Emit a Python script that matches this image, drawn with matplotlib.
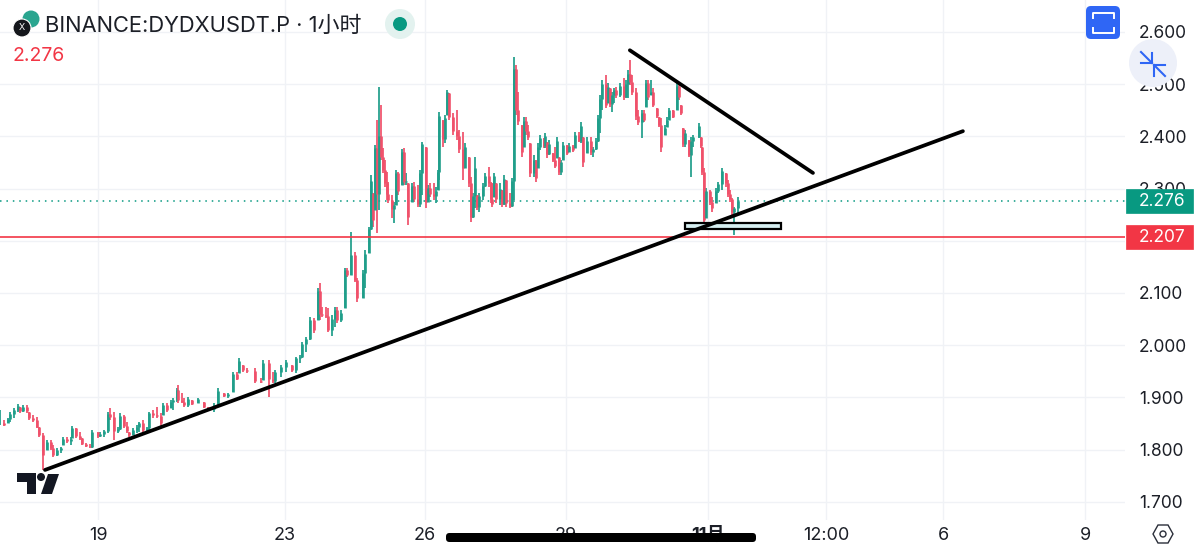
import numpy as np
import matplotlib
matplotlib.use('Agg')
import matplotlib.pyplot as plt
from matplotlib.patches import Circle, FancyBboxPatch, Polygon, Rectangle

# candles; hours counted from 16 Oct 00:00
bar_hours = [22, 24, 26, 27, 29, 31, 32, 34, 36, 37, 39, 41, 42, 44, 46, 48, 49, 51, 53, 54,
             56, 58, 59, 61, 63, 64, 66, 68, 69, 72, 73, 75, 77, 78, 80, 82, 83, 85, 87, 88,
             90, 92, 93, 95, 97, 98, 100, 102, 104, 105, 107, 109, 110, 112, 113, 115, 116, 118, 120, 123,
             126, 128, 131, 133, 136, 138, 141, 143, 144, 146, 148, 152, 155, 156, 159, 161, 162, 165, 168, 171,
             173, 175, 176, 178, 180, 182, 184, 185, 186, 188, 189, 191, 193, 194, 196, 198, 199, 201, 203, 204,
             207, 208, 210, 211, 212, 213, 214, 215, 216, 217, 218, 219, 220, 222, 223, 224, 225, 227, 228, 229,
             230, 232, 233, 235, 236, 237, 239, 240, 241, 243, 244, 245, 246, 248, 249, 250, 251, 253, 255, 256,
             258, 259, 261, 262, 263, 264, 265, 266, 268, 269, 271, 272, 273, 274, 275, 277, 278, 279, 280, 282,
             283, 284, 285, 286, 288, 289, 290, 291, 292, 294, 295, 296, 297, 299, 300, 301, 302, 304, 305, 306,
             307, 308, 309, 311, 312, 314, 315, 317, 318, 319, 321, 323, 324, 326, 327, 328, 329, 331, 332, 333,
             334, 335, 336, 338, 340, 341, 342, 343, 344, 346, 347, 349, 350, 351, 352, 354, 355, 357, 358, 359,
             361, 362, 363, 365, 367, 368, 369, 370, 371, 373, 374, 375, 378, 379, 380, 381, 382, 384, 385, 387,
             388, 390, 392, 393, 394, 395, 396, 398]
highs = [1.876, 1.857, 1.861, 1.872, 1.880, 1.887, 1.882, 1.885, 1.885, 1.872, 1.866, 1.863, 1.843, 1.832, 1.819, 1.819, 1.809, 1.803, 1.805, 1.824,
         1.824, 1.824, 1.845, 1.841, 1.834, 1.822, 1.813, 1.811, 1.838, 1.834, 1.834, 1.838, 1.872, 1.880, 1.872, 1.843, 1.870, 1.866, 1.853, 1.834,
         1.841, 1.847, 1.853, 1.857, 1.843, 1.872, 1.876, 1.882, 1.870, 1.889, 1.889, 1.895, 1.899, 1.918, 1.924, 1.909, 1.899, 1.901, 1.895, 1.899,
         1.891, 1.882, 1.889, 1.918, 1.909, 1.909, 1.949, 1.949, 1.975, 1.962, 1.956, 1.956, 1.937, 1.972, 1.972, 1.949, 1.953, 1.962, 1.972, 1.962,
         1.978, 1.981, 2.006, 2.016, 2.054, 2.052, 2.110, 2.119, 2.073, 2.073, 2.071, 2.058, 2.073, 2.073, 2.067, 2.148, 2.148, 2.217, 2.179, 2.129,
         2.144, 2.182, 2.226, 2.326, 2.292, 2.384, 2.431, 2.495, 2.460, 2.378, 2.355, 2.332, 2.313, 2.288, 2.274, 2.336, 2.332, 2.376, 2.378, 2.330,
         2.311, 2.311, 2.313, 2.307, 2.336, 2.389, 2.380, 2.307, 2.311, 2.311, 2.303, 2.336, 2.447, 2.431, 2.441, 2.489, 2.483, 2.445, 2.451, 2.412,
         2.408, 2.387, 2.361, 2.322, 2.292, 2.361, 2.288, 2.292, 2.311, 2.330, 2.341, 2.313, 2.311, 2.330, 2.311, 2.311, 2.297, 2.326, 2.316, 2.292,
         2.320, 2.552, 2.537, 2.485, 2.422, 2.437, 2.437, 2.422, 2.387, 2.364, 2.355, 2.387, 2.403, 2.397, 2.406, 2.389, 2.393, 2.368, 2.380, 2.399,
         2.361, 2.355, 2.389, 2.384, 2.387, 2.384, 2.408, 2.408, 2.427, 2.399, 2.399, 2.399, 2.380, 2.397, 2.441, 2.479, 2.508, 2.518, 2.502, 2.493,
         2.485, 2.493, 2.495, 2.502, 2.512, 2.508, 2.527, 2.546, 2.518, 2.493, 2.451, 2.451, 2.451, 2.508, 2.508, 2.508, 2.493, 2.454, 2.437, 2.435,
         2.422, 2.437, 2.454, 2.451, 2.502, 2.502, 2.460, 2.416, 2.412, 2.393, 2.399, 2.403, 2.426, 2.399, 2.380, 2.339, 2.301, 2.297, 2.284, 2.301,
         2.313, 2.339, 2.330, 2.316, 2.297, 2.282, 2.265, 2.284]
lows = [1.847, 1.845, 1.851, 1.853, 1.861, 1.872, 1.870, 1.872, 1.870, 1.857, 1.853, 1.841, 1.824, 1.761, 1.799, 1.799, 1.786, 1.788, 1.793, 1.809,
        1.813, 1.809, 1.822, 1.822, 1.819, 1.809, 1.805, 1.803, 1.803, 1.822, 1.824, 1.824, 1.832, 1.857, 1.819, 1.832, 1.838, 1.841, 1.832, 1.824,
        1.828, 1.832, 1.834, 1.832, 1.834, 1.838, 1.861, 1.861, 1.841, 1.866, 1.872, 1.880, 1.876, 1.891, 1.889, 1.889, 1.882, 1.882, 1.886, 1.889,
        1.880, 1.876, 1.872, 1.886, 1.901, 1.899, 1.910, 1.933, 1.947, 1.949, 1.947, 1.928, 1.928, 1.933, 1.901, 1.928, 1.928, 1.939, 1.949, 1.949,
        1.947, 1.966, 1.976, 1.987, 2.010, 2.023, 2.048, 2.048, 2.054, 2.052, 2.025, 2.018, 2.035, 2.042, 2.044, 2.071, 2.131, 2.135, 2.121, 2.083,
        2.090, 2.110, 2.177, 2.221, 2.226, 2.259, 2.215, 2.259, 2.355, 2.330, 2.303, 2.278, 2.272, 2.244, 2.234, 2.269, 2.288, 2.307, 2.307, 2.307,
        2.230, 2.274, 2.274, 2.265, 2.265, 2.288, 2.263, 2.274, 2.284, 2.278, 2.272, 2.297, 2.316, 2.380, 2.387, 2.441, 2.431, 2.403, 2.393, 2.368,
        2.316, 2.339, 2.303, 2.236, 2.244, 2.263, 2.259, 2.255, 2.278, 2.303, 2.303, 2.272, 2.265, 2.284, 2.272, 2.269, 2.265, 2.269, 2.265, 2.263,
        2.265, 2.278, 2.441, 2.422, 2.361, 2.380, 2.403, 2.393, 2.322, 2.322, 2.313, 2.339, 2.374, 2.378, 2.378, 2.359, 2.364, 2.351, 2.339, 2.359,
        2.326, 2.326, 2.355, 2.364, 2.370, 2.370, 2.378, 2.389, 2.387, 2.341, 2.368, 2.364, 2.361, 2.374, 2.389, 2.406, 2.451, 2.454, 2.464, 2.456,
        2.447, 2.464, 2.474, 2.476, 2.470, 2.474, 2.474, 2.498, 2.479, 2.431, 2.422, 2.397, 2.427, 2.456, 2.470, 2.479, 2.456, 2.435, 2.418, 2.370,
        2.403, 2.418, 2.431, 2.435, 2.451, 2.470, 2.441, 2.380, 2.380, 2.361, 2.322, 2.380, 2.397, 2.378, 2.326, 2.234, 2.244, 2.269, 2.255, 2.272,
        2.292, 2.297, 2.303, 2.284, 2.274, 2.249, 2.211, 2.253]
closes = [1.850, 1.848, 1.858, 1.868, 1.876, 1.884, 1.874, 1.882, 1.873, 1.860, 1.856, 1.844, 1.827, 1.790, 1.815, 1.803, 1.789, 1.800, 1.803, 1.821,
          1.816, 1.820, 1.842, 1.826, 1.822, 1.811, 1.807, 1.805, 1.834, 1.826, 1.830, 1.835, 1.868, 1.862, 1.835, 1.840, 1.864, 1.845, 1.835, 1.827,
          1.838, 1.844, 1.850, 1.838, 1.841, 1.870, 1.866, 1.864, 1.850, 1.885, 1.875, 1.892, 1.895, 1.915, 1.895, 1.892, 1.885, 1.897, 1.888, 1.896,
          1.882, 1.878, 1.886, 1.912, 1.903, 1.906, 1.945, 1.936, 1.970, 1.952, 1.950, 1.932, 1.930, 1.966, 1.935, 1.932, 1.948, 1.958, 1.968, 1.953,
          1.975, 1.978, 2.002, 2.012, 2.048, 2.030, 2.104, 2.060, 2.058, 2.056, 2.030, 2.050, 2.068, 2.048, 2.062, 2.144, 2.135, 2.172, 2.125, 2.090,
          2.138, 2.175, 2.222, 2.315, 2.240, 2.378, 2.290, 2.400, 2.360, 2.335, 2.310, 2.290, 2.278, 2.260, 2.268, 2.330, 2.295, 2.370, 2.312, 2.315,
          2.245, 2.305, 2.280, 2.270, 2.330, 2.385, 2.275, 2.302, 2.290, 2.285, 2.296, 2.332, 2.440, 2.395, 2.436, 2.485, 2.437, 2.410, 2.400, 2.375,
          2.340, 2.380, 2.310, 2.245, 2.285, 2.340, 2.265, 2.285, 2.305, 2.325, 2.310, 2.280, 2.270, 2.325, 2.280, 2.300, 2.270, 2.318, 2.272, 2.267,
          2.314, 2.530, 2.450, 2.430, 2.370, 2.430, 2.410, 2.398, 2.330, 2.355, 2.320, 2.380, 2.396, 2.382, 2.400, 2.366, 2.386, 2.355, 2.344, 2.392,
          2.332, 2.350, 2.384, 2.368, 2.382, 2.374, 2.402, 2.392, 2.420, 2.350, 2.392, 2.370, 2.375, 2.392, 2.435, 2.472, 2.500, 2.460, 2.495, 2.462,
          2.480, 2.488, 2.480, 2.496, 2.476, 2.500, 2.520, 2.505, 2.485, 2.440, 2.428, 2.445, 2.432, 2.502, 2.476, 2.485, 2.460, 2.440, 2.422, 2.380,
          2.416, 2.432, 2.450, 2.438, 2.496, 2.475, 2.445, 2.385, 2.406, 2.365, 2.392, 2.398, 2.420, 2.382, 2.332, 2.240, 2.296, 2.275, 2.262, 2.296,
          2.308, 2.334, 2.310, 2.290, 2.280, 2.255, 2.262, 2.276]

# drawn trend lines, price lines and the tick labels
support_hours = [45, 512.7]
support_prices = [1.761, 2.410]
resistance_hours = [343, 436.3]
resistance_prices = [2.565, 2.330]
zone_hours = [371.1, 420.0]
zone_prices = [2.222, 2.234]
last_price = 2.276
line_price = 2.207
y_ticks = [2.6, 2.5, 2.4, 2.3, 2.2, 2.1, 2.0, 1.9, 1.8, 1.7]
y_labels = ['2.600', '2.500', '2.400', '2.300', '', '2.100', '2.000', '1.900', '1.800', '1.700']
x_ticks = [72, 167.3, 238.6, 310.5, 382.8, 443, 502.6, 575]
x_labels = ['19', '23', '26', '29', '11月', '12:00', '6', '9']

GREEN = '#1f9e8a'
RED = '#f0506a'
TAG_GREEN = '#089981'
TAG_RED = '#f23645'
BLUE = '#2f66f5'
GRID = '#f0f2f6'

plt.rcParams['font.family'] = ['Inter', 'Noto Sans CJK SC', 'DejaVu Sans']

fig = plt.figure(figsize=(12, 5.54), dpi=100)
ax = fig.add_axes([0, 34 / 554, 1125 / 1200, 520 / 554])
ax.set_xlim(22.06, 595.3)
ax.set_ylim(1.6651, 2.6613)
for side in ax.spines.values():
    side.set_visible(False)

ax.set_xticks(x_ticks)
ax.set_xticklabels(x_labels)
ax.yaxis.tick_right()
ax.set_yticks(y_ticks)
ax.set_yticklabels(y_labels)
ax.tick_params(axis='both', length=0, labelsize=12.5, labelcolor='#1c1f27')
ax.tick_params(axis='y', pad=10)
ax.tick_params(axis='x', pad=5, labelsize=13)
ax.get_xticklabels()[4].set_fontweight('bold')
ax.grid(True, color=GRID, lw=1)
ax.set_axisbelow(True)

# candles
hours = np.array(bar_hours)
hi = np.array(highs)
lo = np.array(lows)
cl = np.array(closes)
op = np.clip(np.r_[cl[0], cl[:-1]], lo, hi)
colours = [GREEN if c >= o else RED for o, c in zip(op, cl)]
ax.vlines(hours, lo, hi, colors=colours, lw=1.25, zorder=3)
ax.vlines(hours, np.minimum(op, cl), np.maximum(op, cl), colors=colours, lw=1.9, zorder=3)

# price lines
ax.axhline(last_price, color=TAG_GREEN, lw=1.1, ls=(0, (1, 3.2)), zorder=2)
ax.axhline(line_price, color=TAG_RED, lw=1.2, zorder=4)

# hand drawn objects
ax.add_patch(Rectangle((zone_hours[0], zone_prices[0]), zone_hours[1] - zone_hours[0],
                       zone_prices[1] - zone_prices[0], fc='#d6eff1', ec='black', lw=1.6, zorder=5))
ax.plot(support_hours, support_prices, color='black', lw=2.7, solid_capstyle='round', zorder=6)
ax.plot(resistance_hours, resistance_prices, color='black', lw=2.7, solid_capstyle='round', zorder=6)

# price tags on the scale
yt = ax.get_yaxis_transform()
for price, tag in [(last_price, TAG_GREEN), (line_price, TAG_RED)]:
    ax.add_patch(Rectangle((1.001, price - 0.023), 0.0595, 0.046, transform=yt, fc=tag, ec=tag,
                           lw=0.5, clip_on=False, zorder=7))
    ax.text(1.0126, price, f'{price:.3f}', transform=yt, color='white', fontsize=12.5, va='center',
            clip_on=False, zorder=8)

# screen furniture, in pixel coordinates
ov = fig.add_axes([0, 0, 1, 1], zorder=10)
ov.set_xlim(0, 1200)
ov.set_ylim(554, 0)
ov.axis('off')
ov.patch.set_alpha(0)

# header
ov.add_patch(Circle((31, 19), 8.5, fc='#2aa58f', ec='none'))
ov.add_patch(Circle((22, 28), 9, fc='#15171c', ec='white', lw=0.8))
ov.text(22, 28, 'X', color='white', fontsize=6.5, ha='center', va='center')
ov.text(45, 26, 'BINANCE:DYDXUSDT.P · 1小时', fontsize=15.8, color='#1c1f27', va='center')
ov.add_patch(Circle((400, 24), 15, fc='#e3f2ef', ec='none'))
ov.add_patch(Circle((400, 24), 7, fc=TAG_GREEN, ec='none'))
ov.text(12, 56, '2.276', fontsize=14, color=TAG_RED, va='center')

# tradingview mark
ov.add_patch(Polygon([(17, 473), (36, 473), (36, 494), (27, 494), (27, 482), (17, 482)], fc='#131722', ec='none'))
ov.add_patch(Circle((41, 477), 4, fc='#131722', ec='none'))
ov.add_patch(Polygon([(48, 474), (59, 474), (52, 494), (41, 494)], fc='#131722', ec='none'))

# top right buttons
ov.add_patch(FancyBboxPatch((1089, 9), 28, 27, boxstyle='round,pad=3,rounding_size=5', fc=BLUE, ec='none'))
ov.plot([1093, 1093, 1114, 1114], [18, 13, 13, 18], color='white', lw=1.4)
ov.plot([1093, 1093, 1114, 1114], [28, 33, 33, 28], color='white', lw=1.4)
ov.add_patch(Circle((1153, 63), 24, fc='#edf0f9', ec='none'))
ov.plot([1141, 1152], [52, 63], color=BLUE, lw=1.5)
ov.plot([1141, 1152, 1152], [63, 63, 53], color=BLUE, lw=1.5)
ov.plot([1165, 1154], [76, 65], color=BLUE, lw=1.5)
ov.plot([1165, 1154, 1154], [65, 65, 76], color=BLUE, lw=1.5)

# settings hexagon and the phone's home bar
ov.add_patch(Polygon([(1153, 534), (1158, 525), (1168, 525), (1173, 534), (1168, 543), (1158, 543)],
                     fc='white', ec='#2a2e39', lw=1.0))
ov.add_patch(Circle((1163, 534), 3, fc='white', ec='#2a2e39', lw=1.0))
ov.add_patch(FancyBboxPatch((449, 536), 304, 3, boxstyle='round,pad=3,rounding_size=3.5', fc='black', ec='none'))

fig.savefig('out.png', dpi=100)
